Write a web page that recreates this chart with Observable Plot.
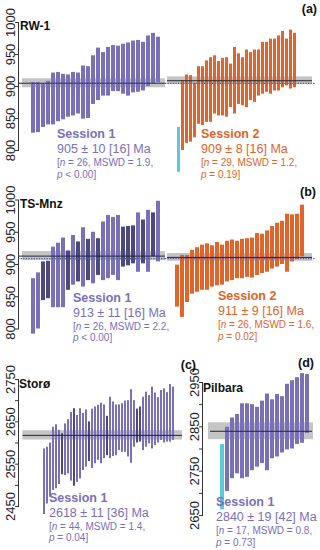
<!DOCTYPE html>
<html><head><meta charset="utf-8">
<script src="https://cdn.jsdelivr.net/npm/d3@7"></script>
<script src="https://cdn.jsdelivr.net/npm/@observablehq/plot@0.6"></script>
<style>
body{margin:0;background:#fff;}
#chart{position:relative;width:320px;height:550px;overflow:hidden;font-family:"Liberation Sans",Arial,sans-serif;}
#chart > div{position:absolute;}
#chart svg{overflow:visible;background:transparent;}
</style></head><body><div id="chart"></div>
<script>
// ---------- DATA (ages in Ma, 2-sigma bar limits) ----------
// (a) RW-1
const rw1S1Low  = [827,828,836,840,840,845,848,852,854,857,849,850,872,878,885,885,892,892,888,885,890,891,893,900,904,906];
const rw1S1High = [906,906,904,908,921,922,919,918,922,921,932,931,948,960,953,961,964,963,966,968,971,972,969,979,983,977];
const rw1S2RejLow = [766], rw1S2RejHigh = [836];
const rw1S2Low  = [800,811,813,820,841,839,844,844,857,854,854,852,867,857,872,870,867,878,875,885,888,891,888,893,893,898,901,896,898];
const rw1S2High = [909,918,917,905,931,931,940,945,948,939,944,945,935,961,951,945,957,953,957,957,969,969,974,974,979,986,974,988,983];
const rw1Means = [905, 909], rw1Bands = [7, 6], rw1Ref = [905];
// (b) TS-Mnz
const tsS1Low  = [792,800,844,847,833,833,833,860,868,873,865,875,870,883,875,878,883,875,896,898,901,888,901,888,912,904];
const tsS1High = [878,887,904,905,927,933,941,921,945,935,957,939,950,940,966,976,973,976,958,959,960,980,969,984,980,998];
const tsS1Kind = ["L","L","D","D","L","L","L","D","L","D","L","D","L","D","L","L","L","L","D","D","D","L","D","L","D","L"];
const tsS2Low  = [834,818,841,854,857,860,860,865,867,868,873,875,878,878,880,879,883,886,888,893,896,900,888,904,908,912];
const tsS2High = [899,914,914,922,926,930,932,929,934,930,936,938,936,939,940,941,948,947,952,959,964,967,978,977,978,992];
const tsMeans = [913, 911], tsBands = [7, 6], tsRef = [909];
// (c) Storø
const stLow  = [2431,2456,2472,2488,2492,2502,2525,2523,2527,2510,2498,2507,2515,2535,2543,2556,2540,2551,2559,2551,2563,2570,2563,2568,2570,2582,2578,2578,2567,2552,2590,2600,2602,2582,2590,2598,2586,2594,2600,2606,2600,2602,2602,2606];
const stHigh = [2586,2590,2600,2637,2643,2630,2622,2645,2655,2672,2681,2665,2681,2670,2678,2650,2680,2685,2689,2694,2690,2663,2708,2697,2690,2690,2693,2699,2700,2726,2700,2680,2685,2708,2720,2712,2732,2718,2707,2724,2728,2719,2738,2732];
const stDark = [6,10,15,21,31,32];
const stMean = [2618], stBand = [11];
// (d) Pilbara
const pbRejLow = [2663], pbRejHigh = [2810];
const pbLow  = [2704,2733,2744,2733,2736,2751,2759,2767,2751,2778,2782,2791,2798,2800,2810,2813,2835];
const pbHigh = [2849,2870,2878,2902,2902,2900,2894,2908,2924,2911,2923,2918,2946,2954,2961,2970,2968];
const pbMean = [2840], pbBand = [19];
// tick values
const ticksAB = [800,850,900,950,1000], labelsAB = [800,850,900,950,1000];
const ticksC = [2450,2500,2550,2600,2650,2700,2750], labelsC = [2450,2550,2650,2750];
const ticksD = [2650,2700,2750,2800,2850,2900,2950], labelsD = [2650,2750,2850,2950];

const COL = {light:"#7a70ba", dark:"#4b497e", orange:"#e1642a", cyan:"#5cc9d8", band:"#c4c4c4", mean:"#262626", ref:"#4c5fb2"};
const FONT = "'Liberation Sans', Arial, sans-serif";

function rows(lo, hi, color, offset = 0) {
  return lo.map((v, i) => ({key: i + offset, lo: v, hi: hi[i], color}));
}

function subplot(o) {
  const items = o.items;
  const marks = [
    Plot.rect([{lo: o.mean - o.half, hi: o.mean + o.half}], {y1: "lo", y2: "hi", fill: COL.band, insetLeft: o.inset[0], insetRight: o.inset[1]})
  ];
  for (const c of [...new Set(items.map(d => d.color))]) {
    marks.push(Plot.barY(items.filter(d => d.color === c), {x: "key", y1: "lo", y2: "hi", fill: c}));
  }
  marks.push(Plot.ruleY([o.mean], {stroke: COL.mean, strokeWidth: 1, insetLeft: o.lineInset[0], insetRight: o.lineInset[1]}));
  if (o.ref != null) marks.push(Plot.ruleY([o.ref], {stroke: COL.ref, strokeWidth: 1.3, strokeDasharray: "1.3,1.3"}));
  if (o.axis) {
    marks.push(Plot.frame({anchor: "left", stroke: "#333"}));
    marks.push(Plot.axisY({ticks: o.ticks, tickSize: 3, text: null, stroke: "#333"}));
    marks.push(Plot.text(o.labels, {y: d => d, text: d => String(d), frameAnchor: "left", rotate: -90,
      textAnchor: "middle", lineAnchor: "bottom", dx: -3.5, fontSize: 13, fill: "#222"}));
  }
  const svg = Plot.plot({
    width: o.width, height: o.height,
    marginTop: o.mt, marginBottom: o.mb, marginLeft: o.ml, marginRight: o.mr,
    style: {fontFamily: FONT, background: "transparent", overflow: "visible"},
    x: {type: "band", domain: items.map(d => d.key).sort((a, b) => a - b), paddingInner: o.pi, paddingOuter: o.po, align: o.align, axis: null},
    y: {domain: o.domain, axis: null},
    marks
  });
  const div = document.createElement("div");
  div.style.left = o.left + "px"; div.style.top = o.top + "px";
  div.style.width = o.width + "px"; div.style.height = o.height + "px";
  div.appendChild(svg);
  document.getElementById("chart").appendChild(div);
}

// (a)
subplot({left: 0, top: 0, width: 165, height: 180, mt: 22, mb: 30, ml: 18, mr: 0, domain: [800, 1000], ticks: ticksAB, labels: labelsAB, axis: true,
  items: rows(rw1S1Low, rw1S1High, COL.light), pi: 0.2, po: 1.04, align: 0.73,
  mean: rw1Means[0], half: rw1Bands[0], inset: [4, 0], lineInset: [0, 0], ref: rw1Ref[0]});
subplot({left: 165, top: 0, width: 155, height: 180, mt: 22, mb: 30, ml: 0, mr: 5, domain: [800, 1000],
  items: [...rows(rw1S2RejLow, rw1S2RejHigh, COL.cyan, -1), ...rows(rw1S2Low, rw1S2High, COL.orange)], pi: 0.22, po: 1.1, align: 0.4,
  mean: rw1Means[1], half: rw1Bands[1], inset: [2, 3], lineInset: [2, 3], ref: rw1Ref[0]});
// (b)
subplot({left: 0, top: 180, width: 165, height: 170, mt: 19.5, mb: 21.5, ml: 18, mr: 0, domain: [800, 1000], ticks: ticksAB, labels: labelsAB, axis: true,
  items: tsS1Low.map((v, i) => ({key: i, lo: v, hi: tsS1High[i], color: tsS1Kind[i] === "D" ? COL.dark : COL.light})), pi: 0.2, po: 1.04, align: 0.73,
  mean: tsMeans[0], half: tsBands[0], inset: [4, 0], lineInset: [0, 0], ref: tsRef[0]});
subplot({left: 165, top: 180, width: 155, height: 170, mt: 19.5, mb: 21.5, ml: 0, mr: 5, domain: [800, 1000],
  items: rows(tsS2Low, tsS2High, COL.orange), pi: 0.2, po: 1.22, align: 0.46,
  mean: tsMeans[1], half: tsBands[1], inset: [2, 3], lineInset: [2, 3], ref: tsRef[0]});
// (c)
subplot({left: 0, top: 350, width: 185, height: 200, mt: 29, mb: 44, ml: 18, mr: 3, domain: [2450, 2750], ticks: ticksC, labels: labelsC, axis: true,
  items: stLow.map((v, i) => ({key: i, lo: v, hi: stHigh[i], color: stDark.includes(i) ? COL.dark : COL.light})), pi: 0.22, po: 1.2, align: 0.78,
  mean: stMean[0], half: stBand[0], inset: [4.5, 0], lineInset: [4.5, 0]});
// (d)
subplot({left: 185, top: 350, width: 135, height: 200, mt: 32, mb: 35, ml: 17, mr: 3, domain: [2650, 2950], ticks: ticksD, labels: labelsD, axis: true,
  items: [...rows(pbRejLow, pbRejHigh, COL.cyan, -1), ...rows(pbLow, pbHigh, COL.light)], pi: 0.25, po: 1.03, align: 0.67,
  mean: pbMean[0], half: pbBand[0], inset: [6, 4], lineInset: [8, 5]});

// ---------- annotations ----------
const overlay = d3.select("#chart").append("div").style("left", "0px").style("top", "0px")
  .append("svg").attr("width", 320).attr("height", 550).style("font-family", FONT);

const sampleLabels = [
  {t: "RW-1", x: 20, y: 30}, {t: "TS-Mnz", x: 20, y: 208}, {t: "Storø", x: 19, y: 388}, {t: "Pilbara", x: 203, y: 392}
];
const panelLetters = [
  {t: "(a)", x: 317, y: 13}, {t: "(b)", x: 316, y: 196}, {t: "(c)", x: 196, y: 369}, {t: "(d)", x: 314, y: 367}
];
overlay.selectAll("text.s").data(sampleLabels).join("text").attr("class", "s")
  .attr("x", d => d.x).attr("y", d => d.y).attr("font-size", 12).attr("font-weight", "bold").attr("fill", "#111").text(d => d.t);
overlay.selectAll("text.p").data(panelLetters).join("text").attr("class", "p")
  .attr("x", d => d.x).attr("y", d => d.y).attr("text-anchor", "end").attr("font-size", 12.5).attr("font-weight", "bold").attr("fill", "#111").text(d => d.t);

const sessions = [
  {x: 57, y: 138, c: COL.light, title: "Session 1", age: "905 ± 10 [16] Ma", n: "26", mswd: "1.9", p: "< 0.00]"},
  {x: 201, y: 138, c: COL.orange, title: "Session 2", age: "909 ± 8 [16] Ma", n: "29", mswd: "1.2", p: "= 0.19]"},
  {x: 73, y: 301.5, c: COL.light, title: "Session 1", age: "913 ± 11 [16] Ma", n: "26", mswd: "2.2", p: "< 0.00]"},
  {x: 218, y: 300, c: COL.orange, title: "Session 2", age: "911 ± 9 [16] Ma", n: "26", mswd: "1.6", p: "= 0.02]"},
  {x: 49, y: 501.5, c: COL.light, title: "Session 1", age: "2618 ± 11 [36] Ma", n: "44", mswd: "1.4", p: "= 0.04]"},
  {x: 216, y: 506, c: COL.light, title: "Session 1", age: "2840 ± 19 [42] Ma", n: "17", mswd: "0.8", p: "= 0.73]"}
];
for (const s of sessions) {
  const g = overlay.append("g").attr("fill", s.c);
  g.append("text").attr("x", s.x).attr("y", s.y).attr("font-size", 12.5).attr("font-weight", "bold").text(s.title);
  g.append("text").attr("x", s.x).attr("y", s.y + 15).attr("font-size", 12.5).text(s.age);
  const t3 = g.append("text").attr("x", s.x).attr("y", s.y + 28).attr("font-size", 10);
  t3.append("tspan").text("[");
  t3.append("tspan").attr("font-style", "italic").text("n");
  t3.append("tspan").text(` = ${s.n}, MSWD = ${s.mswd},`);
  const t4 = g.append("text").attr("x", s.x).attr("y", s.y + 39.5).attr("font-size", 10);
  t4.append("tspan").attr("font-style", "italic").text("p");
  t4.append("tspan").text(" " + s.p);
}
</script></body></html>
